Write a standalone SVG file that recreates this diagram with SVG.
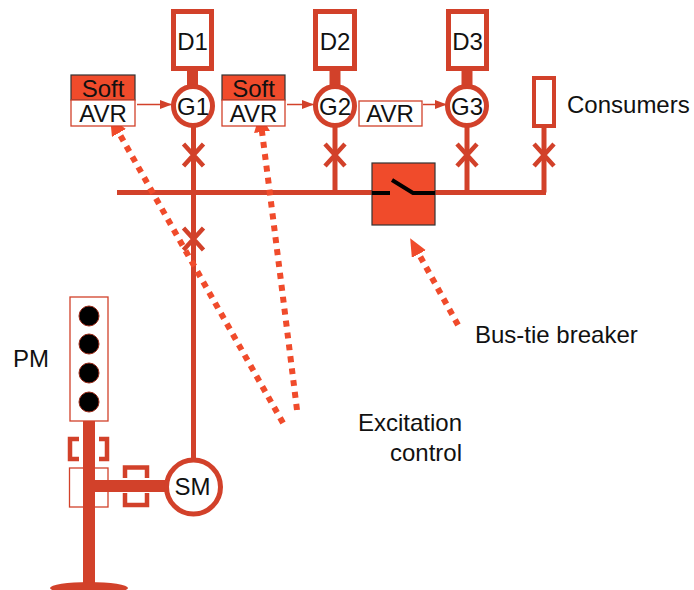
<svg xmlns="http://www.w3.org/2000/svg" width="694" height="590" viewBox="0 0 694 590">
<style>
  text{font-family:"Liberation Sans",Arial,sans-serif;font-size:24px;fill:#111}
  .c{text-anchor:middle}
  .ln{stroke:#D2412A;stroke-width:5;fill:none}
  .thick{stroke:#D2412A;stroke-width:11;fill:none}
  .thin{stroke:#D2412A;stroke-width:1.5;fill:none}
  .box{fill:#fff;stroke:#D2412A;stroke-width:5}
  .soft{fill:#F04B2B;stroke:#333;stroke-width:1.2}
  .avr{fill:#fff;stroke:#D2412A;stroke-width:1.3}
  .dot{stroke:#F04B2B;stroke-width:6;fill:none;stroke-dasharray:6 6}
  .x{stroke:#D2412A;stroke-width:4.5;fill:none}
</style>
<defs>
  <marker id="big" markerUnits="userSpaceOnUse" markerWidth="20" markerHeight="18" refX="8" refY="8" orient="auto">
    <path d="M0,0 L18,8 L0,16 z" fill="#F04B2B"/>
  </marker>
  <marker id="small" markerUnits="userSpaceOnUse" markerWidth="14" markerHeight="10" refX="12" refY="4.5" orient="auto">
    <path d="M0,0 L12,4.5 L0,9 z" fill="#D2412A"/>
  </marker>
  <g id="cross"><path class="x" d="M-10,-11 L10,11 M10,-11 L-10,11"/></g>
</defs>

<g id="connectors">
  <line class="ln" x1="117" y1="192.5" x2="546" y2="192.5"/>
  <line class="ln" x1="193.5" y1="127" x2="193.5" y2="459"/>
  <line class="ln" x1="335" y1="127" x2="335" y2="192.5"/>
  <line class="ln" x1="467" y1="127" x2="467" y2="192.5"/>
  <line class="ln" x1="544" y1="126" x2="544" y2="192.5"/>
  <line class="thick" x1="192.5" y1="70" x2="192.5" y2="88"/>
  <line class="thick" x1="335" y1="70" x2="335" y2="88"/>
  <line class="thick" x1="467" y1="70" x2="467" y2="88"/>
  <use href="#cross" x="193.5" y="155"/>
  <use href="#cross" x="193.5" y="239"/>
  <use href="#cross" x="335" y="155"/>
  <use href="#cross" x="467" y="155"/>
  <use href="#cross" x="544" y="155"/>
  <line class="thin" x1="137" y1="104.5" x2="172" y2="104.5" marker-end="url(#small)"/>
  <line class="thin" x1="287" y1="104.5" x2="314" y2="104.5" marker-end="url(#small)"/>
  <line class="thin" x1="423" y1="104.5" x2="447" y2="104.5" marker-end="url(#small)"/>
  <path class="dot" d="M283,423 L115,126" marker-end="url(#big)"/>
  <path class="dot" d="M297,410 Q276,240 261,124" marker-end="url(#big)"/>
  <path class="dot" d="M458,325 L415,247" marker-end="url(#big)"/>
</g>

<g id="D1"><rect class="box" x="173.5" y="11.5" width="38" height="57"/><text class="c" x="192.5" y="50">D1</text></g>
<g id="D2"><rect class="box" x="315.5" y="11.5" width="39" height="57"/><text class="c" x="335" y="50">D2</text></g>
<g id="D3"><rect class="box" x="448.5" y="11.5" width="38" height="57"/><text class="c" x="467.5" y="50">D3</text></g>

<g id="G1"><circle class="box" cx="193" cy="106" r="19.5"/><text class="c" x="193" y="115">G1</text></g>
<g id="G2"><circle class="box" cx="335" cy="106" r="19.5"/><text class="c" x="335" y="115">G2</text></g>
<g id="G3"><circle class="box" cx="467" cy="106" r="19.5"/><text class="c" x="467" y="115">G3</text></g>

<g id="AVR1">
  <rect class="soft" x="71" y="75" width="64" height="25"/><text class="c" x="103" y="96.5">Soft</text>
  <rect class="avr" x="71" y="100" width="64" height="26"/><text class="c" x="103" y="121.5">AVR</text>
</g>
<g id="AVR2">
  <rect class="soft" x="222" y="75" width="63" height="25"/><text class="c" x="253.5" y="96.5">Soft</text>
  <rect class="avr" x="222" y="100" width="63" height="26"/><text class="c" x="253.5" y="121.5">AVR</text>
</g>
<g id="AVR3">
  <rect class="avr" x="359" y="101" width="63" height="25"/><text class="c" x="390" y="121.5">AVR</text>
</g>

<g id="consumers">
  <rect x="534" y="78" width="20" height="48" fill="#fff" stroke="#D2412A" stroke-width="4"/>
  <text x="567" y="113">Consumers</text>
</g>

<g id="breaker">
  <rect x="372" y="163" width="63" height="62" fill="#F04B2B" stroke="#333" stroke-width="1.2"/>
  <path d="M372,193 H390 M392,180 L413,193 H435" stroke="#000" stroke-width="4" fill="none"/>
  <text x="475" y="343">Bus-tie breaker</text>
</g>

<g id="excitation">
  <text x="462" y="431" text-anchor="end">Excitation</text>
  <text x="462" y="461" text-anchor="end">control</text>
</g>

<g id="PM">
  <text x="13" y="367">PM</text>
  <rect x="70" y="297" width="38" height="124" fill="#fff" stroke="#D2412A" stroke-width="1.3"/>
  <g fill="#000" stroke="#9a2a18" stroke-width="1">
    <circle cx="89" cy="316" r="10"/>
    <circle cx="89" cy="344" r="10"/>
    <circle cx="89" cy="373" r="10"/>
    <circle cx="89" cy="402" r="10"/>
  </g>
</g>

<g id="shaft">
  <rect x="69.5" y="468" width="38.5" height="39" fill="none" stroke="#D2412A" stroke-width="1.3"/>
  <line stroke="#D2412A" stroke-width="12" x1="89" y1="421" x2="89" y2="586"/>
  <line stroke="#D2412A" stroke-width="12" x1="89" y1="486" x2="167" y2="486"/>
  <ellipse cx="89" cy="588" rx="39" ry="6" fill="#D2412A"/>
  <path class="x" d="M79,439 H70 V459 H79 M99,439 H107 V459 H99"/>
  <path class="x" d="M125,478 V467.5 H147 V478 M125,493 V505 H147 V493"/>
</g>

<g id="SM"><circle class="box" cx="193.5" cy="487" r="27"/><text class="c" x="192.5" y="495">SM</text></g>
</svg>
